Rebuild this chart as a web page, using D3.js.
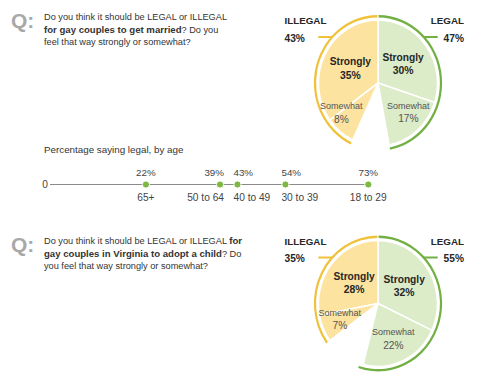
<!DOCTYPE html>
<html lang="en">
<head>
  <meta charset="UTF-8">
  <title>Gay marriage and adoption poll</title>
  <style>
    body { margin: 0; background: #fff; }
    svg text { font-family: "Liberation Sans", Arial, sans-serif; }
    svg .b { font-weight: bold; }
  </style>
</head>
<body>
  <svg id="chart" width="480" height="374"></svg>

  <script src="https://cdn.jsdelivr.net/npm/d3@7"></script>
  <script>
    // question text, [text, bold] pieces per line
    var marriageQuestion = [
      [["Do you think it should be LEGAL or ILLEGAL", false]],
      [["for gay couples to get married", true], ["? Do you", false]],
      [["feel that way strongly or somewhat?", false]]
    ];
    var adoptQuestion = [
      [["Do you think it should be LEGAL or ILLEGAL ", false], ["for", true]],
      [["gay couples in Virginia to adopt a child", true], ["? Do", false]],
      [["you feel that way strongly or somewhat?", false]]
    ];

    // strongly, somewhat
    var marriageLegal = [30, 17];
    var marriageIllegal = [35, 8];
    var marriageTotals = [43, 47]; // illegal, legal
    var adoptLegal = [32, 22];
    var adoptIllegal = [28, 7];
    var adoptTotals = [35, 55];
    var sliceNames = ["Strongly", "Somewhat"];

    var ageGroups = ["65+", "50 to 64", "40 to 49", "30 to 39", "18 to 29"];
    var ageLegal = [22, 39, 43, 54, 73];

    var svg = d3.select("#chart"),
      yellowLine = "#f0c23b",
      yellowFill = "#fce39f",
      greenLine = "#72b043",
      greenFill = "#dcebc8",
      textColor = "#262626",
      rFill = 59.5,
      rRing = 63,
      squash = 1.06;

    var angle = d3.scaleLinear().domain([0, 100]).range([0, 2 * Math.PI]);
    var arc = d3.arc();

    function drawQuestion(lines, top) {
      svg.append("text")
        .attr("class", "b")
        .attr("x", 11).attr("y", top + 8)
        .attr("fill", "#a8a8a8")
        .style("font-size", "21px")
        .text("Q:");
      lines.forEach(function (line, i) {
        var t = svg.append("text")
          .attr("x", 44).attr("y", top + i * 12.5)
          .attr("fill", "#333");
        line.forEach(function (p) {
          t.append("tspan")
            .attr("class", p[1] ? "b" : null)
            .style("font-size", p[1] ? "9.6px" : "9.2px")
            .text(p[0]);
        });
      });
    }

    function drawPie(cx, cy, legal, illegal, totals) {
      var g = svg.append("g").attr("transform", "translate(" + cx + "," + cy + ")");
      var shapes = g.append("g").attr("transform", "scale(1," + squash + ")");

      var slices = [];
      var a0 = 0;
      legal.forEach(function (v, i) {
        slices.push({ name: sliceNames[i], value: v, start: angle(a0), end: angle(a0 + v), fill: greenFill, side: 1 });
        a0 += v;
      });
      a0 = 0;
      illegal.forEach(function (v, i) {
        slices.push({ name: sliceNames[i], value: v, start: -angle(a0 + v), end: -angle(a0), fill: yellowFill, side: -1 });
        a0 += v;
      });

      shapes.selectAll("path.slice").data(slices).enter().append("path")
        .attr("class", "slice")
        .attr("fill", function (d) { return d.fill; })
        .attr("stroke", "#fff")
        .attr("stroke-width", 1.5)
        .attr("d", function (d) {
          return arc({ innerRadius: 0, outerRadius: rFill, startAngle: d.start, endAngle: d.end });
        });

      // outer rings
      var rings = [
        { start: -angle(totals[0]), end: -0.01, color: yellowLine },
        { start: 0.01, end: angle(totals[1]), color: greenLine }
      ];
      shapes.selectAll("path.ring").data(rings).enter().append("path")
        .attr("class", "ring")
        .attr("fill", function (d) { return d.color; })
        .attr("d", function (d) {
          return arc({ innerRadius: rRing - 1.1, outerRadius: rRing + 1.1, startAngle: d.start, endAngle: d.end });
        });

      // leader lines and totals
      var ly = -46;
      var dx = Math.sqrt(rRing * rRing - (ly / squash) * (ly / squash));
      g.append("line").attr("x1", -dx).attr("x2", -dx - 14).attr("y1", ly).attr("y2", ly)
        .attr("stroke", yellowLine).attr("stroke-width", 2);
      g.append("line").attr("x1", dx).attr("x2", dx + 14).attr("y1", ly).attr("y2", ly)
        .attr("stroke", greenLine).attr("stroke-width", 2);

      var heads = [
        { x: -93.5, anchor: "start", name: "ILLEGAL", value: totals[0] },
        { x: 86, anchor: "end", name: "LEGAL", value: totals[1] }
      ];
      heads.forEach(function (h) {
        g.append("text").attr("class", "b").attr("x", h.x).attr("y", ly - 13).attr("text-anchor", h.anchor)
          .attr("fill", textColor).style("font-size", "9.8px").text(h.name);
        g.append("text").attr("class", "b").attr("x", h.x).attr("y", ly + 4.5).attr("text-anchor", h.anchor)
          .attr("fill", textColor).style("font-size", "10.2px").text(h.value + "%");
      });

      // slice labels
      slices.forEach(function (d) {
        var strong = d.name === "Strongly";
        var r = strong ? 31 : 36;
        var c = arc.centroid({ innerRadius: r, outerRadius: r, startAngle: d.start, endAngle: d.end });
        var x = c[0], y = c[1] * squash;
        var lab = g.append("g");
        var t1 = lab.append("text").attr("y", y - 3).attr("text-anchor", "middle")
          .attr("class", strong ? "b" : null)
          .attr("fill", strong ? textColor : "#555")
          .style("font-size", strong ? "10.2px" : "9px")
          .text(d.name);
        lab.append("text").attr("y", y + 10.5).attr("text-anchor", "middle")
          .attr("class", strong ? "b" : null)
          .attr("fill", strong ? textColor : "#555")
          .style("font-size", strong ? "10.4px" : "10.2px")
          .text(d.value + "%");
        // keep small labels clear of the empty gap at the bottom
        var edge = d.side > 0 ? d.end : d.start;
        var dy = (y - 6) / squash;
        if (!strong && Math.abs(edge) < Math.PI && dy > 0) {
          var bx = d.side * dy * Math.tan(Math.PI - Math.abs(edge));
          var half = t1.node().getComputedTextLength() / 2 + 5;
          if (d.side < 0) x = Math.min(x, bx - half);
          else x = Math.max(x, bx + half);
        }
        lab.selectAll("text").attr("x", x);
      });
    }

    drawQuestion(marriageQuestion, 20);
    drawPie(378, 83, marriageLegal, marriageIllegal, marriageTotals);

    // percentage saying legal, by age
    var x = d3.scaleLinear().domain([0, 100]).range([50, 486]);
    var lineY = 184.5;
    svg.append("text").attr("x", 44).attr("y", 153)
      .attr("fill", "#333").style("font-size", "9.8px")
      .text("Percentage saying legal, by age");
    svg.append("line")
      .attr("x1", x(0)).attr("x2", x(d3.max(ageLegal)))
      .attr("y1", lineY).attr("y2", lineY)
      .attr("stroke", "#8a8a8a").attr("stroke-width", 1);
    svg.append("text").attr("x", x(0) - 2).attr("y", lineY + 3.5).attr("text-anchor", "end")
      .attr("fill", "#444").style("font-size", "10.2px").text("0");

    // crowded points get their labels pushed away from the close neighbour
    var ageAnchor = ageLegal.map(function (v, i) {
      var prev = i > 0 ? x(v) - x(ageLegal[i - 1]) : Infinity;
      var next = i < ageLegal.length - 1 ? x(ageLegal[i + 1]) - x(v) : Infinity;
      if (next < 50 && next <= prev) return { a: "end", dx: 4 };
      if (prev < 50) return { a: "start", dx: -4 };
      return { a: "middle", dx: 0 };
    });

    var dots = svg.selectAll("g.age").data(ageLegal).enter().append("g").attr("class", "age");
    dots.append("circle")
      .attr("cx", function (d) { return x(d); })
      .attr("cy", lineY).attr("r", 3.6)
      .attr("fill", "#7cb842").attr("stroke", "#fff").attr("stroke-width", 1);
    dots.append("text")
      .attr("x", function (d, i) { return x(d) + ageAnchor[i].dx; })
      .attr("y", lineY - 8.5)
      .attr("text-anchor", function (d, i) { return ageAnchor[i].a; })
      .attr("fill", "#444").style("font-size", "9.8px")
      .text(function (d) { return d + "%"; });
    dots.append("text")
      .attr("x", function (d, i) { return x(d) + ageAnchor[i].dx; })
      .attr("y", lineY + 16.5)
      .attr("text-anchor", function (d, i) { return ageAnchor[i].a; })
      .attr("fill", "#444").style("font-size", "10.2px")
      .text(function (d, i) { return ageGroups[i]; });

    drawQuestion(adoptQuestion, 244);
    drawPie(378, 303.5, adoptLegal, adoptIllegal, adoptTotals);
  </script>
</body>
</html>
